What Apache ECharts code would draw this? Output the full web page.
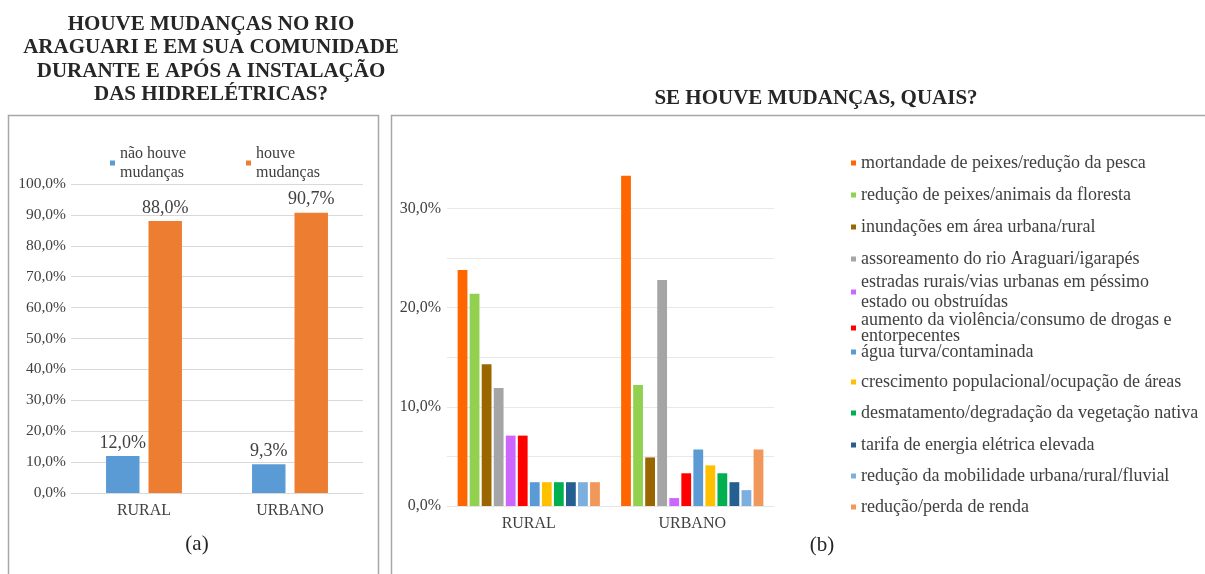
<!DOCTYPE html>
<html><head><meta charset="utf-8">
<script src="https://cdn.jsdelivr.net/npm/echarts@6/dist/echarts.min.js"></script>
<style>html,body{margin:0;padding:0;background:#fff}#c{width:1205px;height:574px}</style>
</head><body><div id="c"></div>
<script>
// ---- data ----
const categories = ['RURAL', 'URBANO'];
const changeNames = ['não houve mudanças', 'houve mudanças'];
const noChange = [12.0, 9.3];
const changed = [88.0, 90.7];
const causes = [
  'mortandade de peixes/redução da pesca',
  'redução de peixes/animais da floresta',
  'inundações em área urbana/rural',
  'assoreamento do rio Araguari/igarapés',
  'estradas rurais/vias urbanas em péssimo\nestado ou obstruídas',
  'aumento da violência/consumo de drogas e\nentorpecentes',
  'água turva/contaminada',
  'crescimento populacional/ocupação de áreas',
  'desmatamento/degradação da vegetação nativa',
  'tarifa de energia elétrica elevada',
  'redução da mobilidade urbana/rural/fluvial',
  'redução/perda de renda'
];
const ruralCauses = [23.8, 21.4, 14.3, 11.9, 7.1, 7.1, 2.4, 2.4, 2.4, 2.4, 2.4, 2.4];
const urbanCauses = [33.3, 12.2, 4.9, 22.8, 0.8, 3.3, 5.7, 4.1, 3.3, 2.4, 1.6, 5.7];
const leftTitle = 'HOUVE MUDANÇAS NO RIO\nARAGUARI E EM SUA COMUNIDADE\nDURANTE E APÓS A INSTALAÇÃO\nDAS HIDRELÉTRICAS?';
const rightTitle = 'SE HOUVE MUDANÇAS, QUAIS?';

// ---- styles ----
const changeColors = ['#5B9BD5', '#ED7D31'];
const causeColors = ['#FF6600', '#92D050', '#996600', '#A5A5A5', '#CC66FF', '#FF0000',
  '#5B9BD5', '#FFC000', '#00B050', '#255E91', '#7CAFDD', '#F1975A'];
const changeLegendLeft = [105, 241];
const legendCenters = [158, 190, 222, 254, 287, 322, 347, 377, 408, 440, 471, 502];
const legendLineH = [20, 20, 20, 20, 20, 16, 20, 20, 20, 20, 20, 20];
const FONT = '"Liberation Serif", "Times New Roman", serif';
const pct = v => v.toFixed(1).replace('.', ',') + '%';

const chart = echarts.init(document.getElementById('c'), null, {renderer: 'canvas'});

const series = [];
changeNames.forEach((n, i) => {
  series.push({
    name: n, type: 'bar', xAxisIndex: 0, yAxisIndex: 0,
    data: i === 0 ? noChange : changed,
    itemStyle: {color: changeColors[i]},
    barGap: '27%', barCategoryGap: '48%',
    label: {show: true, position: 'top', distance: 4, color: '#404040',
      fontFamily: FONT, fontSize: 18, formatter: p => pct(p.value)}
  });
});
causes.forEach((n, i) => {
  series.push({
    name: n, type: 'bar', xAxisIndex: 1, yAxisIndex: 1,
    data: [ruralCauses[i], urbanCauses[i]],
    itemStyle: {color: causeColors[i]},
    barGap: '23%', barCategoryGap: '13%'
  });
});

const legends = [];
changeNames.forEach((n, i) => {
  legends.push({
    data: [n], left: changeLegendLeft[i], top: 139, icon: 'rect', itemWidth: 5, itemHeight: 5, itemGap: 0,
    formatter: s => s.replace(' mudanças', '\nmudanças'),
    textStyle: {fontFamily: FONT, fontSize: 16, color: '#404040', lineHeight: 19}
  });
});
causes.forEach((n, i) => {
  const lines = n.split('\n').length;
  const h = lines * legendLineH[i];
  legends.push({
    data: [n], left: 846, top: legendCenters[i] - h / 2, icon: 'rect',
    itemWidth: 5, itemHeight: 5, itemGap: 0,
    textStyle: {fontFamily: FONT, fontSize: 18, color: '#404040', lineHeight: legendLineH[i]}
  });
});

chart.setOption({
  animation: false,
  title: [
    {text: leftTitle, left: 206, top: 8, textAlign: 'center',
      textStyle: {fontFamily: FONT, fontWeight: 'bold', fontSize: 21, lineHeight: 23.3, color: '#262626', align: 'center'}},
    {text: rightTitle, left: 811, top: 83, textAlign: 'center',
      textStyle: {fontFamily: FONT, fontWeight: 'bold', fontSize: 21, color: '#262626'}}
  ],
  legend: legends,
  grid: [
    {left: 71, right: 842, top: 184, bottom: 81},
    {left: 447, right: 431, top: 159, bottom: 68}
  ],
  xAxis: [
    {type: 'category', gridIndex: 0, data: categories,
      axisLine: {lineStyle: {color: '#D9D9D9'}}, axisTick: {show: false},
      axisLabel: {fontFamily: FONT, fontSize: 16, color: '#404040', margin: 10}},
    {type: 'category', gridIndex: 1, data: categories,
      axisLine: {lineStyle: {color: '#E6E6E6'}}, axisTick: {show: false},
      axisLabel: {fontFamily: FONT, fontSize: 16, color: '#404040', margin: 10}}
  ],
  yAxis: [
    {type: 'value', gridIndex: 0, min: 0, max: 100, interval: 10,
      axisLine: {show: false}, axisTick: {show: false},
      splitLine: {lineStyle: {color: '#D9D9D9'}},
      axisLabel: {fontFamily: FONT, fontSize: 15.5, color: '#404040', margin: 5, formatter: v => pct(v)}},
    {type: 'value', gridIndex: 1, min: 0, max: 35, interval: 5,
      axisLine: {show: false}, axisTick: {show: false},
      splitLine: {lineStyle: {color: ['#E8E8E8', '#E8E8E8', '#E8E8E8', '#E8E8E8', '#E8E8E8', '#E8E8E8', '#E8E8E8', 'rgba(0,0,0,0)']}},
      axisLabel: {fontFamily: FONT, fontSize: 16, color: '#404040', margin: 6,
        formatter: v => (v % 10 === 0 ? pct(v) : '')}}
  ],
  series: series,
  graphic: [
    {type: 'rect', shape: {x: 8.5, y: 115.5, width: 370, height: 470},
      style: {fill: 'none', stroke: '#A6A6A6', lineWidth: 1.5}},
    {type: 'rect', shape: {x: 391.5, y: 115.5, width: 830, height: 470},
      style: {fill: 'none', stroke: '#A6A6A6', lineWidth: 1.5}},
    {type: 'text', x: 197, y: 544, style: {text: '(a)', font: '21px ' + FONT, fill: '#262626', textAlign: 'center', textVerticalAlign: 'middle'}},
    {type: 'text', x: 822, y: 545, style: {text: '(b)', font: '21px ' + FONT, fill: '#262626', textAlign: 'center', textVerticalAlign: 'middle'}}
  ]
});
</script></body></html>
